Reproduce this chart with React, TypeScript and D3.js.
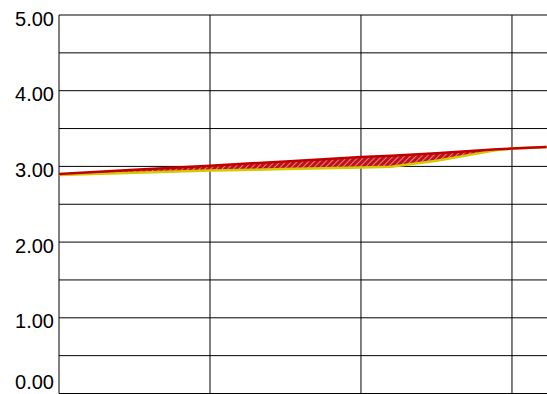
import React, { useEffect } from "react";
import * as d3 from "d3";

const xs = [0, 0.5, 1, 1.5, 2, 2.2, 2.5, 2.9, 3, 3.23];
const upperSeries = [2.9, 2.955, 3.01, 3.065, 3.125, 3.14, 3.175, 3.225, 3.235, 3.256];
const lowerSeries = [2.885, 2.915, 2.945, 2.965, 2.985, 2.995, 3.075, 3.215, 3.235, 3.256];
const yTicks = [0, 1, 2, 3, 4, 5];
const yMinorTicks = [0.5, 1.5, 2.5, 3.5, 4.5];
const xGrid = [0, 1, 2, 3];

const W = 547;
const H = 394;
const left = 59;
const top = 15;
const bottom = 393.5;

export default function App() {
  useEffect(() => {
    document.body.style.margin = "0";
  }, []);

  const x = d3.scaleLinear().domain([0, 3.232]).range([left, W]);
  const y = d3.scaleLinear().domain([0, 5]).range([bottom, top]);

  const pts = xs.map((v, i) => ({ x: v, hi: upperSeries[i], lo: lowerSeries[i] }));
  const area = d3
    .area<any>()
    .x((d) => x(d.x))
    .y0((d) => y(d.lo))
    .y1((d) => y(d.hi))(pts) as string;
  const upLine = d3.line<any>().x((d) => x(d.x)).y((d) => y(d.hi))(pts) as string;
  const loLine = d3.line<any>().x((d) => x(d.x)).y((d) => y(d.lo))(pts) as string;

  return (
    <svg width={W} height={H} style={{ display: "block" }}>
      <defs>
        <pattern id="hatch" width="4" height="4" patternUnits="userSpaceOnUse" patternTransform="rotate(45)">
          <rect width="4" height="4" fill="#c0101a" />
          <line x1="0" y1="0" x2="0" y2="4" stroke="#f4c0c0" strokeWidth="1.3" />
        </pattern>
      </defs>
      {[...yTicks, ...yMinorTicks].map((t) => (
        <line key={"h" + t} x1={left} x2={W} y1={y(t)} y2={y(t)} stroke="#000" strokeWidth={1} />
      ))}
      {xGrid.map((t) => (
        <line key={"v" + t} x1={x(t)} x2={x(t)} y1={top} y2={bottom} stroke="#000" strokeWidth={1} />
      ))}
      {yTicks.map((t) => (
        <text
          key={"l" + t}
          x={54}
          y={t === 0 ? 389 : y(t) + 10.5}
          textAnchor="end"
          fontFamily="Liberation Sans, Arial, sans-serif"
          fontSize={20}
          fill="#000"
        >
          {t.toFixed(2)}
        </text>
      ))}
      <path d={area} fill="url(#hatch)" stroke="none" />
      <path d={loLine} fill="none" stroke="#d4c800" strokeWidth={2.5} />
      <path d={upLine} fill="none" stroke="#c00000" strokeWidth={2.5} />
    </svg>
  );
}
